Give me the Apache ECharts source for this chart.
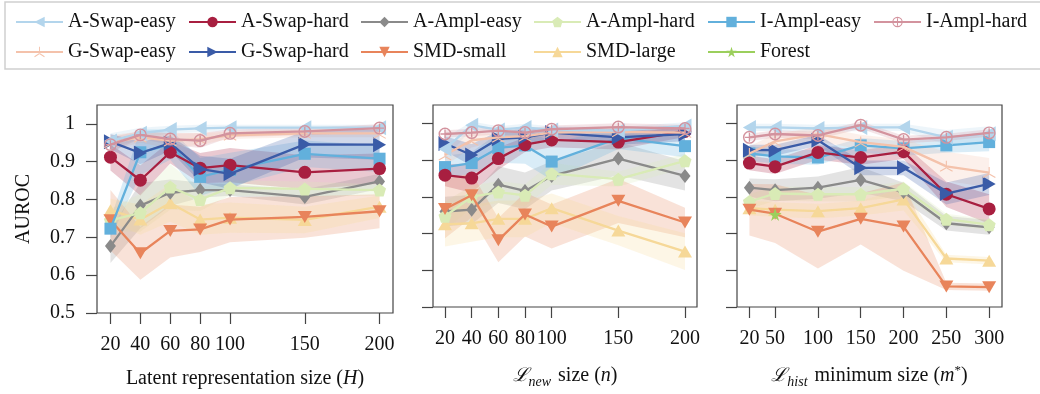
<!DOCTYPE html>
<html><head><meta charset="utf-8">
<script src="https://cdn.jsdelivr.net/npm/echarts@6/dist/echarts.min.js"></script>
<style>html,body{margin:0;padding:0;background:#fff}#c{width:1040px;height:394px}</style>
</head><body><div id="c"></div>
<script>
// ---------- DATA ----------
const seriesNames = ['A-Swap-easy','A-Swap-hard','A-Ampl-easy','A-Ampl-hard','I-Ampl-easy','I-Ampl-hard','G-Swap-easy','G-Swap-hard','SMD-small','SMD-large','Forest'];

const xH = [20,40,60,80,100,150,200];
const xN = [20,40,60,80,100,150,200];
const xM = [20,50,100,150,200,250,300];
const ticksH = [20,40,60,80,100,150,200];
const ticksN = [20,40,60,80,100,150,200];
const ticksM = [20,50,100,150,200,250,300];
const ticksY = [0.5,0.6,0.7,0.8,0.9,1.0];

// Panel 1: latent representation size (H) -- means
const H_ASwapEasy = [0.955,0.975,0.985,0.988,0.990,0.990,0.990];
const H_ASwapHard = [0.912,0.851,0.925,0.883,0.891,0.872,0.882];
const H_AAmplEasy = [0.677,0.784,0.818,0.825,0.825,0.807,0.848];
const H_AAmplHard = [0.745,0.765,0.833,0.800,0.831,0.828,0.825];
const H_IAmplEasy = [0.723,0.925,0.945,0.860,0.879,0.921,0.908];
const H_IAmplHard = [0.945,0.971,0.960,0.956,0.975,0.980,0.989];
const H_GSwapEasy = [0.950,0.965,0.955,0.960,0.970,0.975,0.975];
const H_GSwapHard = [0.953,0.923,0.949,0.881,0.868,0.946,0.945];
const H_SMDSmall  = [0.745,0.658,0.717,0.721,0.747,0.754,0.769];
const H_SMDLarge  = [0.772,0.747,0.791,0.747,0.752,0.746,0.781];
// Panel 1 -- std
const Hs_ASwapEasy = [0.020,0.015,0.010,0.010,0.008,0.008,0.008];
const Hs_ASwapHard = [0.035,0.040,0.030,0.040,0.045,0.045,0.040];
const Hs_AAmplEasy = [0.045,0.060,0.035,0.020,0.015,0.020,0.020];
const Hs_AAmplHard = [0.030,0.050,0.060,0.030,0.020,0.020,0.015];
const Hs_IAmplEasy = [0.025,0.060,0.040,0.050,0.045,0.035,0.035];
const Hs_IAmplHard = [0.020,0.010,0.015,0.020,0.010,0.010,0.010];
const Hs_GSwapEasy = [0.020,0.015,0.020,0.015,0.010,0.010,0.010];
const Hs_GSwapHard = [0.020,0.030,0.020,0.035,0.040,0.035,0.040];
const Hs_SMDSmall  = [0.080,0.070,0.070,0.060,0.060,0.055,0.045];
const Hs_SMDLarge  = [0.030,0.040,0.050,0.040,0.040,0.035,0.030];

// Panel 2: L_new size (n) -- means
const N_ASwapEasy = [0.930,0.995,0.982,0.989,0.982,0.980,0.993];
const N_ASwapHard = [0.859,0.851,0.904,0.942,0.955,0.949,0.978];
const N_AAmplEasy = [0.760,0.765,0.833,0.816,0.857,0.904,0.857];
const N_AAmplHard = [0.747,0.800,0.813,0.804,0.863,0.848,0.898];
const N_IAmplEasy = [0.881,0.892,0.933,0.940,0.896,0.960,0.938];
const N_IAmplHard = [0.971,0.975,0.980,0.975,0.984,0.990,0.986];
const N_GSwapEasy = [0.914,0.954,0.962,0.965,0.975,0.977,0.975];
const N_GSwapHard = [0.945,0.914,0.958,0.962,0.975,0.962,0.971];
const N_SMDSmall  = [0.767,0.804,0.682,0.752,0.719,0.789,0.730];
const N_SMDLarge  = [0.725,0.728,0.740,0.740,0.769,0.708,0.651];
// Panel 2 -- std
const Ns_ASwapEasy = [0.030,0.010,0.010,0.010,0.010,0.010,0.010];
const Ns_ASwapHard = [0.030,0.040,0.030,0.020,0.020,0.020,0.015];
const Ns_AAmplEasy = [0.040,0.040,0.050,0.050,0.040,0.045,0.040];
const Ns_AAmplHard = [0.040,0.030,0.030,0.030,0.030,0.020,0.020];
const Ns_IAmplEasy = [0.030,0.030,0.040,0.050,0.050,0.030,0.030];
const Ns_IAmplHard = [0.010,0.010,0.010,0.010,0.010,0.010,0.010];
const Ns_GSwapEasy = [0.030,0.020,0.010,0.010,0.010,0.010,0.010];
const Ns_GSwapHard = [0.020,0.030,0.020,0.020,0.015,0.020,0.020];
const Ns_SMDSmall  = [0.080,0.060,0.060,0.060,0.060,0.060,0.040];
const Ns_SMDLarge  = [0.060,0.050,0.050,0.050,0.040,0.040,0.050];

// Panel 3: L_hist minimum size (m*) -- means
const M_ASwapEasy = [0.989,0.989,0.986,0.989,0.989,0.962,0.972];
const M_ASwapHard = [0.892,0.882,0.921,0.907,0.923,0.807,0.767];
const M_AAmplEasy = [0.825,0.818,0.825,0.846,0.813,0.728,0.717];
const M_AAmplHard = [0.787,0.809,0.807,0.807,0.822,0.739,0.724];
const M_IAmplEasy = [0.918,0.910,0.907,0.940,0.932,0.940,0.949];
const M_IAmplHard = [0.962,0.971,0.967,0.995,0.956,0.962,0.974];
const M_GSwapEasy = [0.918,0.951,0.971,0.949,0.936,0.883,0.866];
const M_GSwapHard = [0.927,0.927,0.954,0.879,0.879,0.809,0.835];
const M_SMDSmall  = [0.765,0.754,0.705,0.740,0.719,0.556,0.554];
const M_SMDLarge  = [0.769,0.765,0.761,0.769,0.793,0.632,0.626];
// Panel 3 -- std
const Ms_ASwapEasy = [0.010,0.010,0.010,0.010,0.010,0.020,0.020];
const Ms_ASwapHard = [0.020,0.020,0.020,0.020,0.020,0.035,0.040];
const Ms_AAmplEasy = [0.025,0.030,0.030,0.035,0.025,0.020,0.020];
const Ms_AAmplHard = [0.020,0.020,0.020,0.020,0.020,0.015,0.015];
const Ms_IAmplEasy = [0.020,0.020,0.020,0.020,0.020,0.020,0.025];
const Ms_IAmplHard = [0.010,0.010,0.010,0.010,0.010,0.010,0.010];
const Ms_GSwapEasy = [0.020,0.020,0.020,0.020,0.020,0.040,0.040];
const Ms_GSwapHard = [0.015,0.015,0.015,0.020,0.020,0.030,0.030];
const Ms_SMDSmall  = [0.070,0.080,0.100,0.070,0.120,0.010,0.010];
const Ms_SMDLarge  = [0.020,0.020,0.020,0.020,0.030,0.010,0.010];
// Forest baseline (panel 3 only)
const M_ForestX = [50];
const M_Forest  = [0.752];

// ---------- STYLE ----------
const FONT = 'Liberation Serif';
const SYM = {
  left:  'path://M0,10L17,0L17,20Z',
  right: 'path://M17,10L0,0L0,20Z',
  down:  'path://M0,0L20,0L10,17Z',
  up:    'path://M10,0L20,17L0,17Z',
  pent:  'path://M10,0L19.5,6.9L15.9,18.1L4.1,18.1L0.5,6.9Z',
  oplus: 'path://M0,10A10,10 0 1,0 20,10A10,10 0 1,0 0,10Z M2.2,10A7.8,7.8 0 1,1 17.8,10A7.8,7.8 0 1,1 2.2,10Z M9,3L11,3L11,17L9,17Z M3,9L17,9L17,11L3,11Z',
  tri:   'path://M9.2,0L10.8,0L10.8,10L9.2,10Z M10.4,10.69L1.74,15.69L0.94,14.31L9.6,9.31Z M9.6,10.69L18.26,15.69L19.06,14.31L10.4,9.31Z',
  star:  'path://M10,0L12.35,7.26L19.95,7.27L13.8,11.75L16.16,19L10,14.5L3.84,19L6.2,11.75L0.05,7.27L7.65,7.26Z'
};
const STYLE = {
  'A-Swap-easy': {color:'#b3d5ec', symbol:SYM.left,  size:[13,15], z:9},
  'A-Swap-hard': {color:'#a81f40', symbol:'circle',  size:13, z:5},
  'A-Ampl-easy': {color:'#8a8a8a', symbol:'diamond', size:[11,14], z:1},
  'A-Ampl-hard': {color:'#d9ebb6', symbol:SYM.pent,  size:13, z:2},
  'I-Ampl-easy': {color:'#62b0dc', symbol:'rect',    size:12, z:4},
  'I-Ampl-hard': {color:'#d3939e', symbol:SYM.oplus, size:13, z:10},
  'G-Swap-easy': {color:'#f4c2ab', symbol:SYM.tri,   size:[13,11], z:7},
  'G-Swap-hard': {color:'#3a5ba7', symbol:SYM.right, size:[13,15], z:6},
  'SMD-small':   {color:'#e8845b', symbol:SYM.down,  size:[14,12], z:3},
  'SMD-large':   {color:'#f6d898', symbol:SYM.up,    size:[14,12], z:0},
  'Forest':      {color:'#9bcf5c', symbol:SYM.star,  size:13, z:11}
};

const panels = [
  {x:xH, ticks:ticksH, min:11, max:209,
   m:[H_ASwapEasy,H_ASwapHard,H_AAmplEasy,H_AAmplHard,H_IAmplEasy,H_IAmplHard,H_GSwapEasy,H_GSwapHard,H_SMDSmall,H_SMDLarge],
   s:[Hs_ASwapEasy,Hs_ASwapHard,Hs_AAmplEasy,Hs_AAmplHard,Hs_IAmplEasy,Hs_IAmplHard,Hs_GSwapEasy,Hs_GSwapHard,Hs_SMDSmall,Hs_SMDLarge],
   grid:{left:97, top:105, width:296, height:208},
   name:'Latent representation size ({i|H})'},
  {x:xN, ticks:ticksN, min:11, max:209,
   m:[N_ASwapEasy,N_ASwapHard,N_AAmplEasy,N_AAmplHard,N_IAmplEasy,N_IAmplHard,N_GSwapEasy,N_GSwapHard,N_SMDSmall,N_SMDLarge],
   s:[Ns_ASwapEasy,Ns_ASwapHard,Ns_AAmplEasy,Ns_AAmplHard,Ns_IAmplEasy,Ns_IAmplHard,Ns_GSwapEasy,Ns_GSwapHard,Ns_SMDSmall,Ns_SMDLarge],
   grid:{left:433, top:105, width:264, height:208},
   name:'{L|ℒ}{sub|new} size ({i|n})'},
  {x:xM, ticks:ticksM, min:5.5, max:315,
   m:[M_ASwapEasy,M_ASwapHard,M_AAmplEasy,M_AAmplHard,M_IAmplEasy,M_IAmplHard,M_GSwapEasy,M_GSwapHard,M_SMDSmall,M_SMDLarge],
   s:[Ms_ASwapEasy,Ms_ASwapHard,Ms_AAmplEasy,Ms_AAmplHard,Ms_IAmplEasy,Ms_IAmplHard,Ms_GSwapEasy,Ms_GSwapHard,Ms_SMDSmall,Ms_SMDLarge],
   grid:{left:737, top:105, width:265, height:208},
   name:'{L|ℒ}{sub|hist} minimum size ({i|m}{sup|*})'}
];

const AX = '#444';
const richName = {
  i:{fontFamily:FONT, fontSize:20, fontStyle:'italic', color:'#111'},
  L:{fontFamily:'DejaVu Serif', fontSize:19, fontStyle:'italic', color:'#111'},
  sub:{fontFamily:FONT, fontSize:14, fontStyle:'italic', color:'#111', padding:[12,2,0,0]},
  sup:{fontFamily:FONT, fontSize:13, color:'#111', padding:[0,0,10,0]}
};

const grids = [], xAxes = [], yAxes = [], series = [];
panels.forEach((p, pi) => {
  grids.push(Object.assign({show:true, borderColor:AX, borderWidth:1.2, backgroundColor:'transparent'}, p.grid));
  xAxes.push({
    type:'value', gridIndex:pi, min:p.min, max:p.max,
    axisLine:{show:false}, splitLine:{show:false},
    axisTick:{show:true, length:11, customValues:p.ticks, lineStyle:{color:AX, width:1.2}},
    axisLabel:{customValues:p.ticks, margin:22, fontFamily:FONT, fontSize:20, color:'#111'},
    name:p.name, nameLocation:'middle', nameGap:56,
    nameTextStyle:{fontFamily:FONT, fontSize:20, color:'#111', rich:richName}
  });
  yAxes.push({
    type:'value', gridIndex:pi, min:0.5, max:1.05,
    axisLine:{show:false}, splitLine:{show:false},
    axisTick:{show:true, length:11, customValues:ticksY, lineStyle:{color:AX, width:1.2}},
    axisLabel:{show:pi===0, customValues:ticksY, margin:22, fontFamily:FONT, fontSize:20, color:'#111',
      formatter:v => (Math.abs(v-1)<1e-9 ? '1' : v.toFixed(1))},
    name: pi===0 ? 'AUROC' : '', nameLocation:'middle', nameGap:63,
    nameTextStyle:{fontFamily:FONT, fontSize:20, color:'#111'}
  });
  // bands
  p.m.forEach((mean, si) => {
    const nm = seriesNames[si], st = STYLE[nm], sd = p.s[si], xs = p.x;
    series.push({
      type:'custom', name:nm+' band', xAxisIndex:pi, yAxisIndex:pi, silent:true, z:1,
      data: xs.map((x,i)=>[x, mean[i]-sd[i], mean[i]+sd[i]]),
      encode:{x:0, y:[1,2]},
      renderItem:(params, api) => {
        if (params.dataIndex !== 0) return null;
        const pts = [];
        for (let i=0;i<xs.length;i++) pts.push(api.coord([xs[i], mean[i]+sd[i]]));
        for (let i=xs.length-1;i>=0;i--) pts.push(api.coord([xs[i], mean[i]-sd[i]]));
        return {type:'polygon', shape:{points:pts}, style:{fill:st.color, opacity:0.24}};
      }
    });
  });
  // lines
  p.m.forEach((mean, si) => {
    const nm = seriesNames[si], st = STYLE[nm];
    series.push({
      type:'line', name:nm, xAxisIndex:pi, yAxisIndex:pi, z:3+st.z,
      data: p.x.map((x,i)=>[x, mean[i]]),
      symbol:st.symbol, symbolSize:st.size, showAllSymbol:true,
      lineStyle:{color:st.color, width:2.3}, itemStyle:{color:st.color, opacity:1},
      emphasis:{disabled:true}, animation:false
    });
  });
});
// Forest (panel 3)
series.push({
  type:'line', name:'Forest', xAxisIndex:2, yAxisIndex:2, z:3+STYLE['Forest'].z,
  data: M_ForestX.map((x,i)=>[x, M_Forest[i]]),
  symbol:STYLE['Forest'].symbol, symbolSize:STYLE['Forest'].size,
  lineStyle:{color:STYLE['Forest'].color, width:2.3}, itemStyle:{color:STYLE['Forest'].color},
  animation:false
});

// legends: 6 columns x 2 rows
const colLeft = [15,188,360,533,707,873];
const rowTop = [12,42];
const legendOrder = [
  ['A-Swap-easy',0,0],['A-Swap-hard',1,0],['A-Ampl-easy',2,0],['A-Ampl-hard',3,0],['I-Ampl-easy',4,0],['I-Ampl-hard',5,0],
  ['G-Swap-easy',0,1],['G-Swap-hard',1,1],['SMD-small',2,1],['SMD-large',3,1],['Forest',4,1]
];
const legends = legendOrder.map(([nm,c,r]) => ({
  data:[nm], left:colLeft[c], top:rowTop[r], padding:0, itemWidth:47, itemHeight:13, itemGap:0,
  selectedMode:false, textStyle:{fontFamily:FONT, fontSize:20, color:'#111'}
}));

const chart = echarts.init(document.getElementById('c'), null, {renderer:'canvas'});
chart.setOption({
  animation:false,
  grid:grids, xAxis:xAxes, yAxis:yAxes, series:series, legend:legends,
  graphic:[{type:'rect', shape:{x:5, y:2, width:1040, height:67}, style:{fill:'none', stroke:'#cfcfcf', lineWidth:1.5}, silent:true}]
});
</script></body></html>
